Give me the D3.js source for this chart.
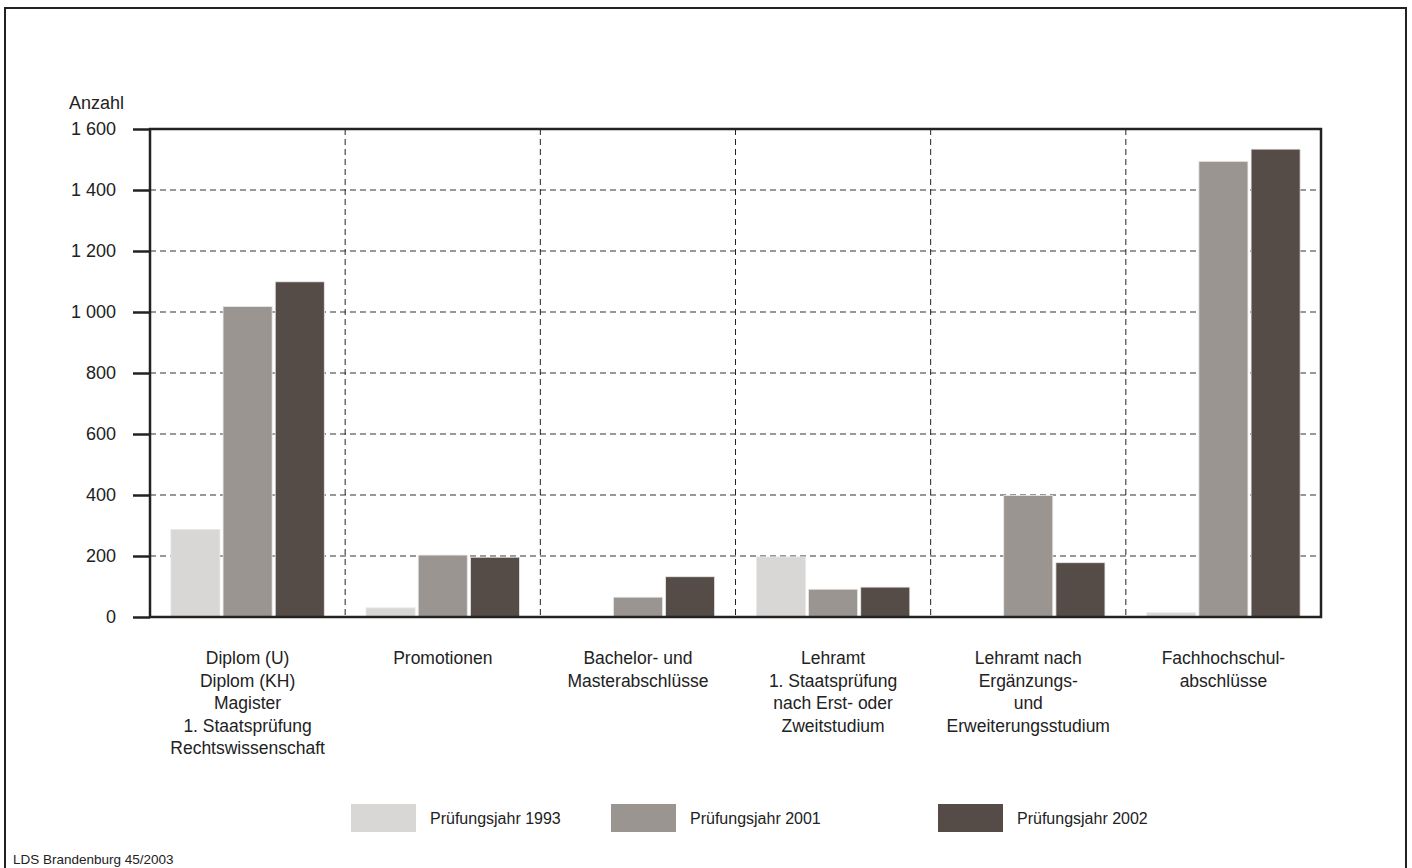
<!DOCTYPE html>
<html>
<head>
<meta charset="utf-8">
<script src="https://cdn.jsdelivr.net/npm/d3@7"></script>
<style>
  body { margin: 0; background: #fff; }
  text { font-family: "Liberation Sans", Arial, sans-serif; fill: #222; }
</style>
</head>
<body>
<div id="chart"></div>
<script>
// Data
var categories = [
  ["Diplom (U)", "Diplom (KH)", "Magister", "1. Staatsprüfung", "Rechtswissenschaft"],
  ["Promotionen"],
  ["Bachelor- und", "Masterabschlüsse"],
  ["Lehramt", "1. Staatsprüfung", "nach Erst- oder", "Zweitstudium"],
  ["Lehramt nach", "Ergänzungs-", "und", "Erweiterungsstudium"],
  ["Fachhochschul-", "abschlüsse"]
];
var series = ["Prüfungsjahr 1993", "Prüfungsjahr 2001", "Prüfungsjahr 2002"];
var values1993 = [287, 30, 0, 197, 0, 14];
var values2001 = [1018, 203, 65, 91, 398, 1494];
var values2002 = [1099, 196, 132, 98, 178, 1534];
var yTicks = [0, 200, 400, 600, 800, 1000, 1200, 1400, 1600];
var colors = ["#d8d7d5", "#9b9591", "#554c48"];

var svgWidth = 1412;
var svgHeight = 868;

// plot area
var plotLeft = 150, plotRight = 1321, plotTop = 129, plotBottom = 617;

var svg = d3.select("#chart").append("svg")
  .attr("width", svgWidth)
  .attr("height", svgHeight);

// outer frame (open at the bottom)
svg.append("path")
  .attr("d", "M5," + svgHeight + "V8H1406V" + svgHeight)
  .attr("fill", "none")
  .attr("stroke", "#222")
  .attr("stroke-width", 2);

var x0 = d3.scaleBand()
  .domain(d3.range(categories.length))
  .range([plotLeft, plotRight]);

var x1 = d3.scaleBand()
  .domain(d3.range(series.length))
  .range([0, x0.bandwidth()])
  .paddingInner(0.06)
  .paddingOuter(0.4);

var y = d3.scaleLinear()
  .domain([0, 1600])
  .range([plotBottom, plotTop]);

// horizontal grid
svg.append("g")
  .selectAll("line")
  .data(yTicks.filter(function(d) { return d > 0 && d < 1600; }))
  .enter().append("line")
  .attr("x1", plotLeft).attr("x2", plotRight)
  .attr("y1", function(d) { return y(d); })
  .attr("y2", function(d) { return y(d); })
  .attr("stroke", "#777")
  .attr("stroke-width", 1.5)
  .attr("stroke-dasharray", "6,4");

// vertical separators
svg.append("g")
  .selectAll("line")
  .data(d3.range(1, categories.length))
  .enter().append("line")
  .attr("x1", function(d) { return x0(d); })
  .attr("x2", function(d) { return x0(d); })
  .attr("y1", plotTop).attr("y2", plotBottom)
  .attr("stroke", "#222")
  .attr("stroke-width", 1)
  .attr("stroke-dasharray", "6,4");

// bars
var allValues = [values1993, values2001, values2002];
allValues.forEach(function(vals, s) {
  svg.append("g")
    .selectAll("rect")
    .data(vals.map(function(v, i) { return { i: i, v: v }; }).filter(function(d) { return d.v > 0; }))
    .enter().append("rect")
    .attr("x", function(d) { return x0(d.i) + x1(s); })
    .attr("y", function(d) { return y(d.v); })
    .attr("width", x1.bandwidth())
    .attr("height", function(d) { return plotBottom - y(d.v); })
    .attr("fill", colors[s])
    .attr("stroke", "#e8e8e8")
    .attr("stroke-width", 0.8);
});

// y axis
var yAxis = d3.axisLeft(y)
  .tickValues(yTicks)
  .tickSize(17)
  .tickPadding(17)
  .tickFormat(function(d) { return d3.format(",")(d).replace(",", " "); });

var yg = svg.append("g")
  .attr("transform", "translate(" + plotLeft + ",0)")
  .call(yAxis);
yg.select(".domain").remove();
yg.selectAll(".tick line").attr("stroke", "#222").attr("stroke-width", 2.5);
yg.selectAll(".tick text")
  .attr("font-size", 18)
  .attr("fill", "#222")
  .style("font-family", "Liberation Sans, Arial, sans-serif");

// plot frame
svg.append("path")
  .attr("d", "M" + plotLeft + "," + plotBottom + "V" + plotTop + "H" + plotRight + "V" + plotBottom + "Z")
  .attr("fill", "none")
  .attr("stroke", "#222")
  .attr("stroke-width", 2.5);

svg.append("text")
  .attr("x", 69).attr("y", 109)
  .attr("font-size", 18)
  .text("Anzahl");

// category labels
var catG = svg.append("g")
  .selectAll("text")
  .data(categories)
  .enter().append("text")
  .attr("text-anchor", "middle")
  .attr("font-size", 17.5)
  .attr("transform", function(d, i) {
    return "translate(" + (x0(i) + x0.bandwidth() / 2) + ",664)";
  });
catG.selectAll("tspan")
  .data(function(d) { return d; })
  .enter().append("tspan")
  .attr("x", 0)
  .attr("y", function(d, i) { return i * 22.5; })
  .text(function(d) { return d; });

// legend
var legendX = [351, 611, 938];
var legend = svg.append("g")
  .selectAll("g")
  .data(series)
  .enter().append("g")
  .attr("transform", function(d, i) { return "translate(" + legendX[i] + ",804)"; });
legend.append("rect")
  .attr("width", 65).attr("height", 28)
  .attr("fill", function(d, i) { return colors[i]; });
legend.append("text")
  .attr("x", 79).attr("y", 20)
  .attr("font-size", 16)
  .text(function(d) { return d; });

svg.append("text")
  .attr("x", 13).attr("y", 864)
  .attr("font-size", 13.5)
  .text("LDS Brandenburg 45/2003");
</script>
</body>
</html>
